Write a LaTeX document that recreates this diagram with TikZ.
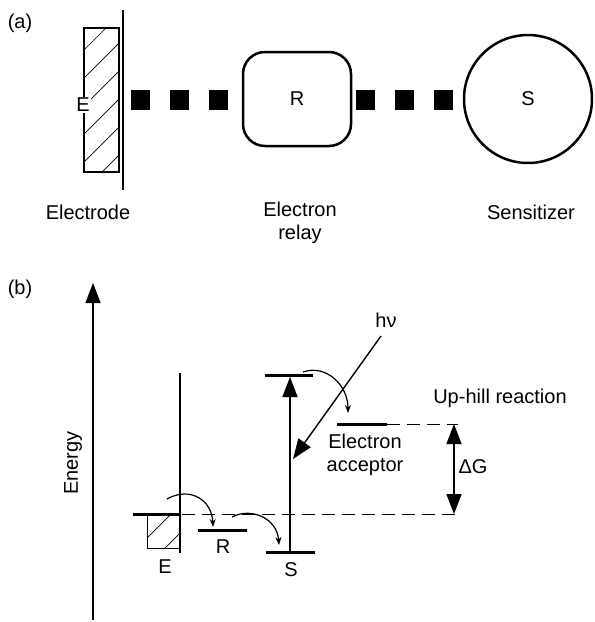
\documentclass[tikz,border=0pt]{standalone}
\usepackage{fontspec}
\setmainfont{Liberation Sans}
\usetikzlibrary{arrows.meta, positioning, calc}

\begin{document}
\begin{tikzpicture}[x=1pt, y=-1pt,
  every node/.style={font=\fontsize{20}{23}\selectfont},
  thinline/.style={line width=1.3pt},
  hatch/.style={line width=0.7pt},
  level/.style={line width=3pt},
  hop/.style={line width=1.2pt, -{Stealth[length=8pt, width=6pt]}},
  bigarr/.style={line width=1.4pt, -{Triangle[length=20pt, width=15pt]}},
  dashline/.style={line width=1pt, dash pattern=on 13pt off 7pt},
  link/.style={fill=black, minimum width=19pt, minimum height=20pt, inner sep=0pt}
]
\useasboundingbox (0,0) rectangle (595,622);

% ── (a) Electrode -- relay -- sensitizer ──
\node (parta) at (20,23) {(a)};

\draw[thinline] (84,28) rectangle (119,172);
\begin{scope}
  \clip (84,28) rectangle (119,172);
  \foreach \k in {0,...,6}
    \draw[hatch] (84,22+28*\k) -- ++(40,-40);
\end{scope}
\draw[thinline] (123,10) -- (123,190);
\node[fill=white, inner sep=1pt] (elecE) at (83,105) {E};

\foreach \x [count=\i] in {140,179,218,365,404,443}
  \node[link] (sq\i) at (\x,100) {};

\node[draw, line width=2.5pt, rounded corners=22pt, minimum width=108pt, minimum height=94pt] (relay) at (297,99) {R};
\node[draw, circle, line width=2.5pt, minimum size=128pt, inner sep=0pt] (sens) at (528,99) {S};

\node (electrode) at (88,212) {Electrode};
\node[align=center] (relaylbl) at (300,223) {Electron\\relay};
\node (senslbl) at (531,212) {Sensitizer};

% ── (b) Energy diagram ──
\node (partb) at (20,289) {(b)};

\coordinate (ebot) at (93,620);
\coordinate (etop) at (93,283);
\draw[bigarr, line width=1.3pt] (ebot) -- (etop);
\node[rotate=90] (energy) at (73,463) {Energy};

% electrode
\draw[thinline] (180,373) -- (180,553);
\draw[line width=0.8pt] (147,514) rectangle (180,548);
\begin{scope}
  \clip (147,514) rectangle (180,548);
  \foreach \k in {0,1}
    \draw[hatch] (147,538+28*\k) -- ++(40,-40);
\end{scope}

% levels
\coordinate (EL) at (133,514);  \coordinate (ER) at (180,514);
\coordinate (RL) at (198,530);  \coordinate (RR) at (247,530);
\coordinate (SL) at (266,552);  \coordinate (SR) at (315,552);
\coordinate (XL) at (265,375);  \coordinate (XR) at (313,375);
\coordinate (AL) at (337,424);  \coordinate (AR) at (387,424);
\coordinate (dA) at (458,424);  \coordinate (dE) at (458,514);
\coordinate (dEs) at (182,514);

\draw[level] (EL) -- (ER);
\draw[level] (RL) -- (RR);
\draw[level] (SL) -- (SR);
\draw[level] (XL) -- (XR);
\draw[level] (AL) -- (AR);
\draw[dashline] (AR) -- (dA);
\draw[dashline] (dEs) -- (dE);

% excitation
\coordinate (Sg) at (290,552);
\coordinate (Sx) at (290,377);
\draw[bigarr] (Sg) -- (Sx);

\node (hnu) at (386,320) {hν};
\coordinate (hs) at (381,336);
\coordinate (he) at (293,459);
\draw[bigarr] (hs) -- (he);

% electron hops
\draw[hop] (167,499) .. controls (190,486) and (212,500) .. (213,527);
\draw[hop] (232,517) .. controls (251,507) and (277,518) .. (279,545);
\draw[hop] (303,372) .. controls (326,364) and (348,385) .. (348,413);

% free energy
\coordinate (gT) at (454,424);
\coordinate (gB) at (454,514);
\draw[line width=1.4pt, {Triangle[length=20pt, width=15pt]}-{Triangle[length=20pt, width=15pt]}] (gT) -- (gB);
\node (dG) at (473,467) {ΔG};

% labels
\node (lblE) at (165,567) {E};
\node (lblR) at (223,547) {R};
\node (lblS) at (291,570) {S};
\node[align=center] (acc) at (365,455) {Electron\\acceptor};
\node (uphill) at (500,398) {Up-hill reaction};
\end{tikzpicture}
\end{document}
